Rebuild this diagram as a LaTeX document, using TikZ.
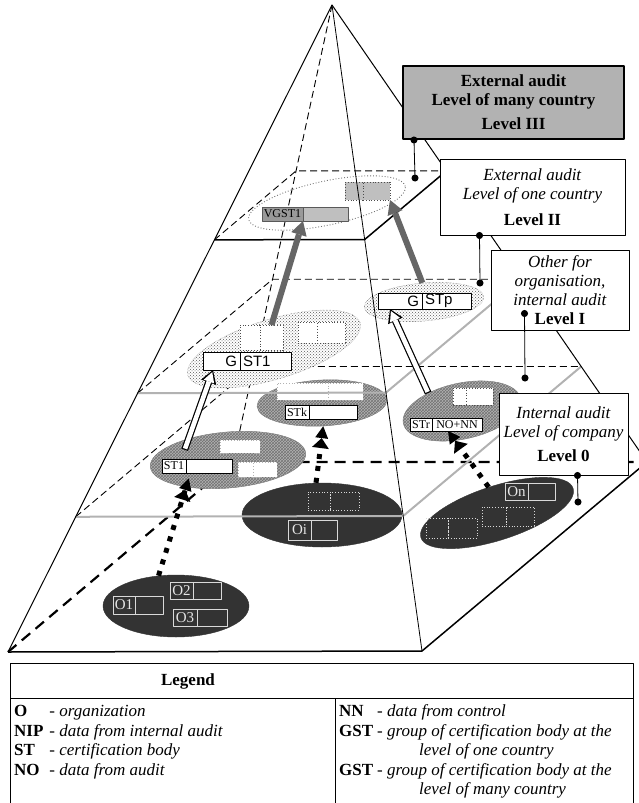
\documentclass[tikz,border=0pt]{standalone}
\usepackage{fontspec}
\setmainfont{Liberation Serif}
\setsansfont{Liberation Sans}
\usetikzlibrary{arrows.meta, calc, patterns, positioning, shapes.geometric}

\tikzset{
  hidden/.style={line width=0.9pt, dash pattern=on 7pt off 4pt},
  heavydash/.style={line width=2.2pt, dash pattern=on 11pt off 7pt},
  greyline/.style={draw=black!30, line width=2pt},
  lvbox/.style={draw, fill=white, line width=1pt, align=center, inner sep=0pt,
    font=\fontsize{17}{19}\selectfont},
  oval/.style={ellipse, inner sep=0pt},
  ovaldot/.style={oval, draw=black!55, dotted, line width=0.9pt},
  ovalone/.style={oval, draw=black!60, densely dotted, preaction={fill=white},
    pattern=crosshatch dots, pattern color=black!65},
  ovalzero/.style={oval, draw=black!50, preaction={fill=black!30},
    pattern=crosshatch, pattern color=black!55},
  ovaldark/.style={oval, draw=black!80, fill=black!80},
  cell/.style={draw, fill=white, line width=0.8pt, inner sep=0pt, outer sep=0pt,
    font=\fontsize{12}{12}\selectfont},
  gcell/.style={cell, inner xsep=3pt, font=\sffamily\fontsize{15}{15}\selectfont},
  dcell/.style={cell, dotted, draw=black!70},
  ocell/.style={cell, fill=none, draw=black!15, text=black!10,
    font=\fontsize{15}{15}\selectfont},
  odcell/.style={ocell, dotted},
  garrow/.style={draw=black!60, line width=6pt,
    -{Triangle[length=14pt, width=16pt, line width=0pt]}},
  wrim/.style={draw=black, line width=7pt,
    -{Triangle[length=13pt, width=16pt, line width=0pt]}},
  wcore/.style={draw=white, line width=4.6pt, shorten <=1.2pt, shorten >=2.2pt,
    -{Triangle[length=10pt, width=11pt, line width=0pt]}},
  darrow/.style={line width=5pt, dash pattern=on 5pt off 7pt,
    -{Triangle[length=10pt, width=17pt, line width=0pt] Triangle[length=12pt, width=13pt, line width=0pt]}},
  dotlink/.style={line width=0.8pt, {Circle[length=7pt]}-{Circle[length=7pt]},
    shorten <=-3.5pt, shorten >=-3.5pt},
  legtext/.style={inner sep=0pt, anchor=north west, font=\fontsize{17}{19.5}\selectfont}
}

\begin{document}
\begin{tikzpicture}[x=1pt, y=-1pt, line join=round]
\useasboundingbox (0,0) rectangle (639,803);
% Apex and corners of the base, (bk) is the hidden back corner
\coordinate (apex) at (332,5);
\coordinate (bl) at (8,652);
\coordinate (bf) at (422,651);
\coordinate (br) at (647,462);
\coordinate (bk) at (233,462);
% Corners of the plane of level II
\coordinate (twol) at ($(apex)!0.363!(bl)$);
\coordinate (twof) at ($(apex)!0.363!(bf)$);
\coordinate (twor) at ($(apex)!0.363!(br)$);
\coordinate (twok) at ($(apex)!0.363!(bk)$);
% Corners of the plane of level I
\coordinate (onel) at ($(apex)!0.6!(bl)$);
\coordinate (onef) at ($(apex)!0.6!(bf)$);
\coordinate (oner) at ($(apex)!0.6!(br)$);
\coordinate (onek) at ($(apex)!0.6!(bk)$);
% Corners of the plane of level 0
\coordinate (zerol) at ($(apex)!0.791!(bl)$);
\coordinate (zerof) at ($(apex)!0.791!(bf)$);
\coordinate (zeror) at ($(apex)!0.791!(br)$);
\coordinate (zerok) at ($(apex)!0.791!(bk)$);
% Hidden edges
\draw[hidden] (apex) -- (bk);
\draw[hidden] (twol) -- (twok) -- (twor);
\draw[hidden] (onel) -- (onek) -- (oner);
\draw[hidden] (zerol) -- (zerok) -- (zeror);
\draw[heavydash] (bl) -- (bk) -- (br);

% Groups on each level
\node[ovaldot, minimum width=160, minimum height=44, rotate=12] (lvtwo) at (327,203) {};
\node[ovalone, minimum width=180, minimum height=60, rotate=17] (gone) at (274,349) {};
\node[ovalone, minimum width=120, minimum height=38, rotate=5] (gp) at (424,302) {};
\node[ovalzero, minimum width=156, minimum height=56, rotate=5] (stone) at (228,460) {};
\node[ovalzero, minimum width=130, minimum height=46, rotate=3] (stk) at (322,403) {};
\node[ovalzero, minimum width=120, minimum height=56, rotate=12] (str) at (462,411) {};
\node[ovaldark, minimum width=146, minimum height=62] (oa) at (176,606) {};
\node[ovaldark, minimum width=160, minimum height=64] (oi) at (322,515) {};
\node[ovaldark, minimum width=160, minimum height=54, rotate=18] (on) at (497,513) {};

% Level II cells
\node[cell, anchor=west, fill=black!40, draw=black!65, minimum width=41, minimum height=14] (vgsta) at (262,214) {VGST1};
\node[cell, fill=black!25, draw=black!65, minimum width=45, minimum height=14, right=0pt of vgsta] (vgstb) {};
\node[dcell, anchor=west, fill=black!25, minimum width=18, minimum height=18] (gbxa) at (345,191) {};
\node[dcell, fill=black!25, minimum width=27, minimum height=18, right=0pt of gbxa] (gbxb) {};

% Level I cells
\node[gcell, anchor=west, minimum height=18, text width=31, align=right] (gonea) at (203,361) {G};
\node[gcell, minimum height=18, text width=45, align=left, right=0pt of gonea] (goneb) {ST1};
\node[dcell, anchor=west, minimum width=20, minimum height=25] (gdota) at (240,337.5) {};
\node[dcell, minimum width=23, minimum height=25, right=0pt of gdota] (gdotb) {};
\node[dcell, anchor=west, minimum width=19, minimum height=21] (gdotc) at (298,332.5) {};
\node[dcell, minimum width=28, minimum height=21, right=0pt of gdotc] (gdotd) {};
\node[gcell, anchor=west, minimum height=16, text width=38, align=right] (gpa) at (378,301) {G};
\node[gcell, minimum height=16, text width=43, align=left, right=0pt of gpa] (gpb) {STp};

% Level 0 cells
\node[cell, anchor=west, minimum width=24, minimum height=14] (stonea) at (162,466) {ST1};
\node[cell, minimum width=46, minimum height=14, right=0pt of stonea] (stoneb) {};
\node[dcell, anchor=west, draw=black!30, minimum width=40, minimum height=13] (stonec) at (220,446.5) {};
\node[dcell, anchor=west, draw=black!30, minimum width=15, minimum height=15] (stoned) at (238,469.5) {};
\node[dcell, draw=black!30, minimum width=24, minimum height=15, right=0pt of stoned] (stonee) {};
\node[cell, anchor=west, minimum width=24, minimum height=14] (stka) at (285,412) {STk};
\node[cell, minimum width=48, minimum height=14, right=0pt of stka] (stkb) {};
\node[dcell, anchor=west, draw=black!30, minimum width=51, minimum height=17] (stkc) at (277,391.5) {};
\node[dcell, draw=black!30, minimum width=35, minimum height=17, right=0pt of stkc] (stkd) {};
\node[cell, anchor=west, minimum width=22, minimum height=13] (stra) at (410,424.5) {STr};
\node[cell, minimum width=50, minimum height=13, right=0pt of stra] (strb) {NO+NN};
\node[dcell, anchor=west, minimum width=13, minimum height=17] (strc) at (453,396.5) {};
\node[dcell, minimum width=27, minimum height=17, right=0pt of strc] (strd) {};

% Organisations
\node[ocell, anchor=west, minimum width=22, minimum height=18] (oonea) at (113,605) {O1};
\node[ocell, minimum width=28, minimum height=18, right=0pt of oonea] (ooneb) {};
\node[ocell, anchor=west, minimum width=23, minimum height=17] (otwoa) at (170,590.5) {O2};
\node[ocell, minimum width=28, minimum height=17, right=0pt of otwoa] (otwob) {};
\node[ocell, anchor=west, minimum width=24, minimum height=17] (othreea) at (173,617.5) {O3};
\node[ocell, minimum width=30, minimum height=17, right=0pt of othreea] (othreeb) {};
\node[ocell, anchor=west, minimum width=23, minimum height=20] (oia) at (288,530) {Oi};
\node[ocell, minimum width=26, minimum height=20, right=0pt of oia] (oib) {};
\node[odcell, anchor=west, minimum width=22, minimum height=18] (oic) at (308,501) {};
\node[odcell, minimum width=29, minimum height=18, right=0pt of oic] (oid) {};
\node[ocell, anchor=west, minimum width=23, minimum height=17] (ona) at (505,491.5) {On};
\node[ocell, minimum width=27, minimum height=17, right=0pt of ona] (onb) {};
\node[odcell, anchor=west, minimum width=24, minimum height=19] (onc) at (482,516.5) {};
\node[odcell, minimum width=28, minimum height=19, right=0pt of onc] (ond) {};
\node[odcell, anchor=west, minimum width=22, minimum height=20] (one) at (426,528) {};
\node[odcell, minimum width=29, minimum height=20, right=0pt of one] (onf) {};

% Visible edges of the planes
\draw[greyline] (zerol) -- (zerof) -- (zeror);
\draw[greyline] (onel) -- (onef) -- (oner);
\draw[line width=1.5pt] (twol) -- (twof) -- (twor);
% Outer edges of the pyramid
\draw[line width=1pt] (bl) -- (apex) -- (br);
\draw[line width=0.8pt] (apex) -- (bf);
\draw[line width=1.5pt] (bl) -- (bf) -- (br);

% Flows between the levels
\draw[garrow] (gdotb.north) -- (vgstb.south west);
\draw[garrow] (gp.north) -- (gbxb.south east);
\draw[wrim] ([yshift=-10pt]stone.150) -- ([xshift=10pt]gonea.south west);
\draw[wcore] ([yshift=-10pt]stone.150) -- ([xshift=10pt]gonea.south west);
\draw[wrim] (str.140) -- ([xshift=12pt]gpa.south west);
\draw[wcore] (str.140) -- ([xshift=12pt]gpa.south west);
\draw[darrow] (oa.120) -- ([yshift=9pt]stone.210);
\draw[darrow] ([xshift=-6pt]oi.north) -- (stk.south);
\draw[darrow] (on.north) -- ([xshift=16pt]strb.south west);

% Names of the levels
\node[lvbox, fill=black!30, line width=2pt, font=\bfseries\fontsize{17}{19}\selectfont,
  minimum width=221, minimum height=73] (lthree) at (513.5,102.5)
  {External audit\\Level of many country\\[5pt]Level III};
\node[lvbox, minimum width=185, minimum height=76] (ltwo) at (532.5,197)
  {\textit{External audit}\\\textit{Level of one country}\\[7pt]\textbf{Level II}};
\node[lvbox, minimum width=138, minimum height=80] (lone) at (560,290)
  {\textit{Other for}\\\textit{organisation,}\\\textit{internal audit}\\\textbf{Level I}};
\node[lvbox, minimum width=129, minimum height=82] (lzero) at (563.5,434)
  {\textit{Internal audit}\\\textit{Level of company}\\[5pt]\textbf{Level 0}};
% Links to the planes
\coordinate (dthree) at (415,178);
\coordinate (dtwo) at (480,283);
\coordinate (done) at (525,378);
\coordinate (dzero) at (578,502);
\draw[dotlink] ([xshift=12pt]lthree.south west) -- (dthree);
\draw[dotlink] ([xshift=40pt]ltwo.south west) -- (dtwo);
\draw[dotlink] ([xshift=34pt,yshift=17pt]lone.south west) -- (done);
\draw[dotlink] ([xshift=79pt]lzero.south west) -- (dzero);

% Legend
\draw[line width=0.8pt] (10,663) rectangle (633,806);
\draw[line width=0.8pt] (10,698) -- (633,698);
\draw[line width=0.8pt] (335,698) -- (335,806);
\node[font=\bfseries\fontsize{17}{19}\selectfont] (leghead) at (188,681) {Legend};
\node[legtext] (legl) at (14,703) {\begin{tabular}{@{}l@{\hspace{6pt}}l@{}}
  \textbf{O} & - \textit{organization}\\
  \textbf{NIP} & - \textit{data from internal audit}\\
  \textbf{ST} & - \textit{certification body}\\
  \textbf{NO} & - \textit{data from audit}
  \end{tabular}};
\node[legtext] (legr) at (339,703) {\begin{tabular}{@{}l@{\hspace{4pt}}l@{}}
  \textbf{NN} & - \textit{data from control}\\
  \textbf{GST} & - \textit{group of certification body at the}\\
   & \hspace{42pt}\textit{level of one country}\\
  \textbf{GST} & - \textit{group of certification body at the}\\
   & \hspace{42pt}\textit{level of many country}
  \end{tabular}};
\end{tikzpicture}
\end{document}
